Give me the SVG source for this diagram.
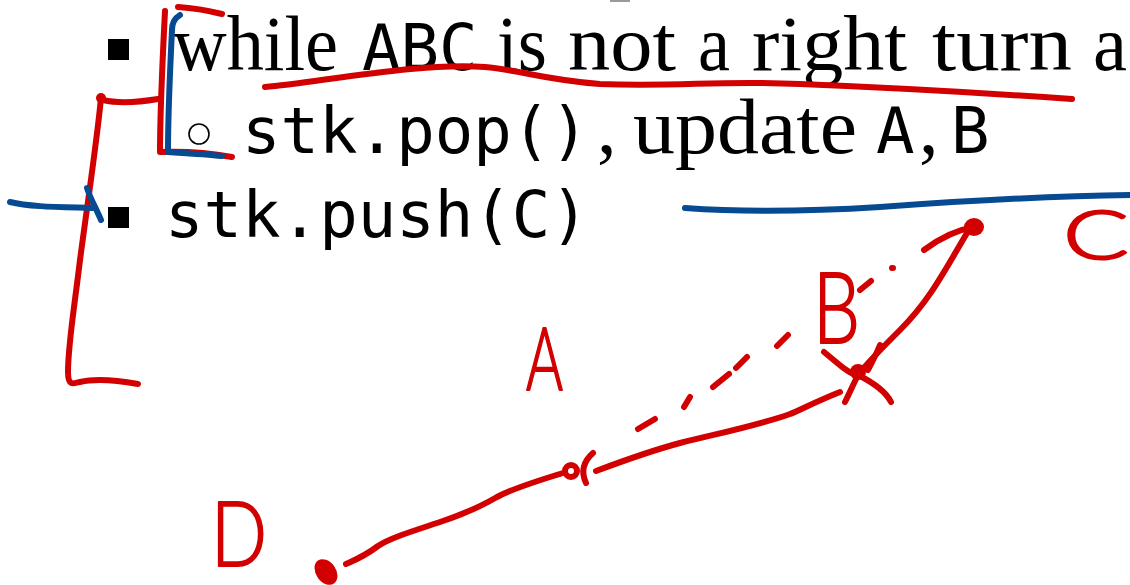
<svg xmlns="http://www.w3.org/2000/svg" width="1130" height="585" viewBox="0 0 1130 585">
  <style>
    .serif { font-family: "Liberation Serif", "Times New Roman", serif; font-size: 78px; fill: #000; }
    .mono { font-family: "DejaVu Sans Mono", "Liberation Mono", monospace; font-size: 64px; fill: #000; }
    .ink-red { fill: none; stroke: #d20000; stroke-width: 6; stroke-linecap: round; stroke-linejoin: round; }
    .ink-blue { fill: none; stroke: #064a92; stroke-width: 6; stroke-linecap: round; stroke-linejoin: round; }
    .dot-red { fill: #d20000; }
    .hand { font-family: Lato, "Liberation Sans", sans-serif; font-weight: 300; fill: #d20000; stroke: #d20000; stroke-width: 2; stroke-linejoin: round; }
  </style>

  <rect width="1130" height="585" fill="#fff"/>

  <!-- tail of the line above, cut by the page edge -->
  <rect x="610" y="0" width="20" height="2" fill="#9a9a9a"/>

  <!-- bullet: while loop -->
  <g id="line-while">
    <rect x="108" y="39" width="21" height="21" fill="#000"/>
    <text class="serif" x="173" y="70" textLength="165" lengthAdjust="spacingAndGlyphs">while</text>
    <text class="mono" x="362" y="70">ABC</text>
    <text class="serif" x="497" y="70" textLength="50" lengthAdjust="spacingAndGlyphs">is</text>
    <text class="serif" x="568" y="70" textLength="108" lengthAdjust="spacingAndGlyphs">not</text>
    <text class="serif" x="698" y="70" textLength="32" lengthAdjust="spacingAndGlyphs">a</text>
    <text class="serif" x="752" y="70" textLength="155" lengthAdjust="spacingAndGlyphs">right</text>
    <text class="serif" x="932" y="70" textLength="140" lengthAdjust="spacingAndGlyphs">turn</text>
    <text class="serif" x="1093" y="70" textLength="34" lengthAdjust="spacingAndGlyphs">a</text>
  </g>

  <!-- sub-bullet: pop -->
  <g id="line-pop">
    <circle cx="199" cy="134" r="10" fill="none" stroke="#000" stroke-width="1.6"/>
    <text class="mono" x="242" y="153">stk.pop()</text>
    <text class="serif" x="597" y="153">,</text>
    <text class="serif" x="633" y="153" textLength="224" lengthAdjust="spacingAndGlyphs">update</text>
    <text class="mono" x="876" y="153">A</text>
    <text class="serif" x="919" y="153">,</text>
    <text class="mono" x="951" y="153">B</text>
  </g>

  <!-- bullet: push -->
  <g id="line-push">
    <rect x="108" y="207" width="21" height="21" fill="#000"/>
    <text class="mono" x="165" y="237">stk.push(C)</text>
  </g>

  <!-- pen marks over the slide text -->
  <g id="brackets">
    <path class="ink-red" d="M101,98 C97,140 88,200 80,260 C74,310 68,345 68,372 C68,386 73,384 80,382 C96,378 116,380 138,384"/>
    <circle class="dot-red" cx="101" cy="98" r="5"/>
    <path class="ink-red" d="M103,100 C120,104 140,102 158,99"/>
    <path class="ink-red" d="M165,11 C163,50 160,110 160,152 C185,151 210,153 232,157"/>
    <path class="ink-red" d="M178,7 C195,8 210,11 222,14"/>
    <path class="ink-blue" d="M180,15 C175,18 172,24 172,30 C170,70 168,120 168,152 C185,153 205,154 222,156"/>
    <path class="ink-blue" d="M10,202 C30,207 60,207 92,208"/>
    <path class="ink-blue" d="M87,188 C90,198 96,208 101,220"/>
  </g>

  <g id="underlines">
    <path class="ink-red" d="M265,87 C320,82 420,62 485,67 C520,70 545,80 600,84 C680,87 720,80 800,84 C900,88 1000,94 1072,99"/>
    <path class="ink-blue" d="M685,208 C740,212 800,212 880,207 C950,202 1050,196 1130,195"/>
  </g>

  <!-- points D, A, B, C and the chains between them -->
  <g id="point-D">
    <ellipse class="dot-red" cx="326" cy="572" rx="10" ry="14" transform="rotate(-35 326 572)"/>
    <text class="hand" x="211" y="566" font-size="90" textLength="56" lengthAdjust="spacingAndGlyphs">D</text>
  </g>
  <g id="point-A">
    <circle cx="571" cy="471" r="6" fill="none" stroke="#d20000" stroke-width="6"/>
    <path class="ink-red" d="M593,453 C585,460 580,470 586,483"/>
    <text class="hand" x="526" y="390" font-size="86" textLength="37" lengthAdjust="spacingAndGlyphs">A</text>
  </g>
  <g id="point-B">
    <circle class="dot-red" cx="858" cy="372" r="8"/>
    <path class="ink-red" d="M880,345 C876,355 872,362 868,370"/>
    <path class="ink-red" d="M824,352 C840,365 850,375 858,375 C872,382 886,392 891,402"/>
    <path class="ink-red" d="M845,402 C850,392 853,385 858,375"/>
    <text class="hand" x="813" y="343" font-size="99" textLength="47" lengthAdjust="spacingAndGlyphs">B</text>
  </g>
  <g id="point-C">
    <ellipse class="dot-red" cx="974" cy="227" rx="10" ry="9"/>
    <text class="hand" x="1063" y="259" font-size="67" textLength="66" lengthAdjust="spacingAndGlyphs">C</text>
  </g>

  <g id="connectors">
    <path class="ink-red" d="M346,564 C355,560 365,556 378,546 C390,538 410,532 440,522 C470,512 485,504 497,497 C510,490 540,480 563,473"/>
    <path class="ink-red" d="M596,471 C620,462 650,451 680,443 C720,433 760,425 790,414 C800,410 815,402 840,392"/>
    <path class="ink-red" d="M862,370 C872,358 885,345 900,330 C930,300 945,270 967,233"/>
    <path class="ink-red" d="M924,250 C940,238 955,230 975,227"/>
    <path class="ink-red" stroke-width="5" d="M638,429 L655,419 M684,407 L690,397 M713,387 L729,374 M736,368 L747,357 M777,346 L788,335 M860,290 L871,281 M892,268 L893,268"/>
  </g>
</svg>
